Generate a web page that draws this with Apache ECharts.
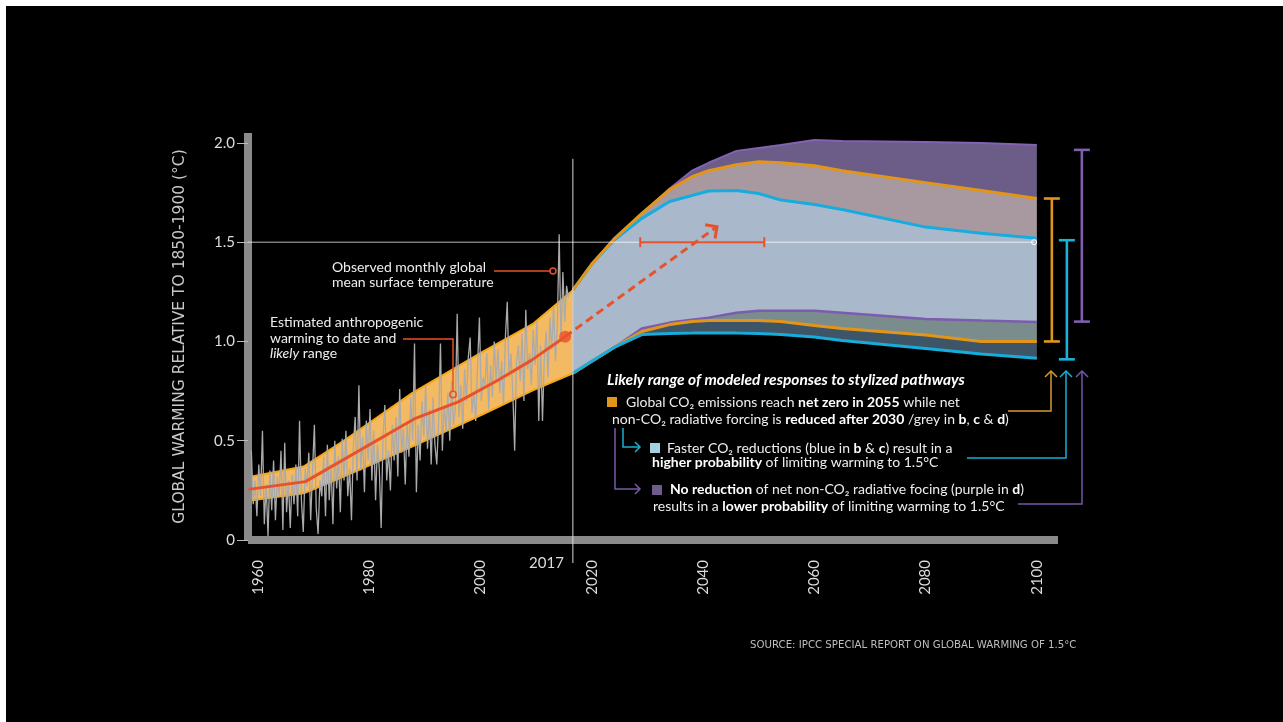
<!DOCTYPE html>
<html><head><meta charset="utf-8">
<script src="https://cdn.jsdelivr.net/npm/echarts@6/dist/echarts.min.js"></script>
<style>html,body{margin:0;padding:0;background:#000;}#c{width:1283px;height:722px;}</style>
</head><body><div id="c"></div>
<script>
// ---------- data ----------
const X_TICKS = [1960, 1980, 2000, 2020, 2040, 2060, 2080, 2100];
const Y_TICKS = [0, 0.5, 1.0, 1.5, 2.0];

const OBS_START = 1958.8;
const OBS_STEP = 1 / 3;
const OBS = [
  0.45, 0.18, 0.30, 0.12, 0.38, 0.22, 0.55, 0.08, 0.28, 0.02, 0.35, 0.15,
  0.40, 0.10, 0.32, 0.22, 0.45, 0.05, 0.49, 0.14, 0.30, 0.06, 0.33, 0.18,
  0.38, 0.12, 0.60, 0.20, 0.04, 0.36, 0.27, 0.44, 0.10, 0.35, 0.58, 0.16,
  0.03, 0.30, 0.22, 0.42, 0.12, 0.48, 0.20, 0.38, 0.08, 0.50, 0.26, 0.42,
  0.14, 0.51, 0.30, 0.55, 0.22, 0.36, 0.10, 0.47, 0.62, 0.30, 0.78, 0.35,
  0.52, 0.24, 0.60, 0.40, 0.66, 0.30, 0.55, 0.20, 0.48, 0.36, 0.06, 0.52,
  0.68, 0.30, 0.45, 0.25, 0.58, 0.40, 0.62, 0.32, 0.76, 0.44, 0.56, 0.28,
  0.60, 0.42, 0.72, 0.50, 0.99, 0.24, 0.58, 0.40, 0.70, 0.52, 0.78, 0.46,
  0.66, 0.38, 0.72, 0.48, 0.38, 0.60, 0.99, 0.45, 0.68, 0.55, 0.74, 0.50,
  0.80, 0.58, 0.66, 1.14, 0.62, 0.78, 0.56, 0.86, 0.70, 0.92, 1.02, 0.64,
  0.74, 0.60, 0.88, 1.12, 0.70, 0.82, 0.78, 0.94, 0.66, 0.88, 0.72, 1.00,
  0.80, 0.96, 0.74, 0.90, 0.68, 1.02, 1.20, 0.82, 0.94, 0.74, 0.45, 0.90,
  0.98, 0.80, 1.04, 0.70, 1.16, 0.86, 0.94, 0.78, 1.06, 0.88, 1.10, 0.60,
  0.98, 0.60, 0.92, 1.05, 0.82, 1.12, 0.96, 1.18, 0.90, 1.08, 1.54, 1.00,
  1.35, 1.10, 1.28, 1.22
];

// estimated anthropogenic warming and likely range
const ANTH_YEARS = [1958.3, 1968.5, 1988.3, 1996.0, 2003.2, 2009.2, 2015.2];
const ANTH = [0.255, 0.294, 0.613, 0.696, 0.806, 0.906, 1.024];
const HIST_YEARS = [1958.9, 1968.2, 1975.4, 1987.7, 2000.2, 2009.5, 2016.6];
const HIST_UPPER = [0.32, 0.37, 0.50, 0.74, 0.945, 1.09, 1.258];
const HIST_LOWER = [0.20, 0.235, 0.32, 0.47, 0.63, 0.755, 0.84];

// modeled pathways
const FUT_YEARS = [2016.6, 2020, 2024, 2029, 2034, 2038, 2041, 2046, 2050, 2054, 2060, 2065, 2080, 2090, 2100];
const PURPLE_UP = [1.258, 1.39, 1.52, 1.645, 1.77, 1.86, 1.90, 1.96, 1.975, 1.99, 2.015, 2.01, 2.005, 2.0, 1.99];
const GREY_UP   = [1.258, 1.39, 1.515, 1.645, 1.765, 1.83, 1.86, 1.89, 1.905, 1.90, 1.885, 1.86, 1.80, 1.76, 1.72];
const BLUE_UP   = [1.258, 1.39, 1.51, 1.62, 1.705, 1.735, 1.758, 1.76, 1.745, 1.712, 1.69, 1.665, 1.576, 1.545, 1.52];
const PURPLE_LO = [0.84, 0.90, 0.97, 1.065, 1.095, 1.11, 1.12, 1.145, 1.155, 1.155, 1.155, 1.145, 1.113, 1.105, 1.098];
const GREY_LO   = [0.84, 0.90, 0.97, 1.05, 1.085, 1.10, 1.105, 1.105, 1.105, 1.10, 1.08, 1.065, 1.032, 1.0, 1.0];
const BLUE_LO   = [0.84, 0.90, 0.97, 1.035, 1.04, 1.042, 1.042, 1.042, 1.04, 1.035, 1.022, 1.005, 0.965, 0.937, 0.915];

// 2100 ranges (brackets)
const BRACKET_GREY = [1.0, 1.72];
const BRACKET_BLUE = [0.91, 1.51];
const BRACKET_PURPLE = [1.10, 1.965];

const LEVEL_15 = 1.5;
const LEVEL_15_END = 2099.5;
const REACH_15_RANGE = [2028.7, 2051.0];
const ARROW_FROM = [2015.2, 1.024];
const ARROW_TO = [2042.5, 1.578];
const NOW_YEAR = 2016.6;
const NOW_LABEL = '2017';
const NOW_TOP = 1.92;

// ---------- helpers ----------
const FONT = 'Lato, "Noto Sans", sans-serif';
const RED = '#e8522a';
const pairs = (xs, ys) => xs.map((x, i) => [x, ys[i]]);
const obsData = OBS.map((v, i) => [OBS_START + i * OBS_STEP, v]);

function band(xs, up, lo, color, z) {
  return {
    type: 'custom', coordinateSystem: 'cartesian2d', clip: false, z, silent: true,
    data: [[xs[0], up[0]]],
    renderItem: (params, api) => {
      const pts = xs.map((x, i) => api.coord([x, up[i]]));
      for (let i = xs.length - 1; i >= 0; i--) pts.push(api.coord([xs[i], lo[i]]));
      return { type: 'polygon', shape: { points: pts }, style: { fill: color } };
    }
  };
}
function line(xs, ys, color, width, z) {
  return { type: 'line', data: pairs(xs, ys), showSymbol: false, symbol: 'none',
    lineStyle: { color, width }, z, silent: true };
}

const brackets = [
  { r: BRACKET_GREY, off: 15, color: '#e0961a' },
  { r: BRACKET_BLUE, off: 30, color: '#19b0da' },
  { r: BRACKET_PURPLE, off: 45, color: '#7f5fae' }
];

const TXT = { fontSize: 14, fontFamily: 'Lato', fill: '#eee' };
const RICH_B = { b: { fontWeight: 'bold', fontSize: 14, fontFamily: 'Lato', fill: '#fff' } };
function legendText(x, y, text) {
  return { type: 'text', x, y, z: 50, style: Object.assign({ text, rich: RICH_B }, TXT) };
}

const option = {
  backgroundColor: '#000',
  animation: false,
  grid: { left: 248, right: 225, top: 133, bottom: 182 },
  xAxis: {
    type: 'value', min: 1958.2, max: 2103.8, offset: 2,
    axisLine: { lineStyle: { color: '#8a8a8a', width: 8, cap: 'butt' } },
    axisTick: { show: false },
    splitLine: { show: false },
    axisLabel: { customValues: X_TICKS, rotate: 90, margin: 18, color: '#dcdcdc',
      fontSize: 15, fontFamily: FONT, formatter: v => String(v) }
  },
  yAxis: {
    type: 'value', min: 0, max: 2.05,
    name: 'GLOBAL WARMING RELATIVE TO 1850-1900 (°C)',
    nameLocation: 'middle', nameRotate: 90, nameGap: 60,
    nameTextStyle: { color: '#c8c8c8', fontSize: 15.5, fontFamily: 'DejaVu Sans' },
    axisLine: { show: true, lineStyle: { color: '#8a8a8a', width: 8, cap: 'butt' } },
    axisTick: { show: true, customValues: Y_TICKS, length: 11, lineStyle: { color: '#bbb', width: 1 } },
    splitLine: { show: false },
    axisLabel: { customValues: Y_TICKS, margin: 13, color: '#dcdcdc', fontSize: 15, fontFamily: FONT,
      formatter: v => (v === 0 ? '0' : v.toFixed(1)) }
  },
  series: [
    // future ranges (layered regions)
    band(FUT_YEARS, PURPLE_UP, GREY_UP, '#6c5c88', 1),
    band(FUT_YEARS, GREY_UP, BLUE_UP, '#a7999f', 1),
    band(FUT_YEARS, BLUE_UP, PURPLE_LO, '#a9b9cb', 1),
    band(FUT_YEARS, PURPLE_LO, GREY_LO, '#7b8c8c', 1),
    band(FUT_YEARS, GREY_LO, BLUE_LO, '#3e5567', 1),
    // historical likely range
    band(HIST_YEARS, HIST_UPPER, HIST_LOWER, '#f3b963', 2),
    line(HIST_YEARS, HIST_UPPER, '#f5a814', 2, 3),
    line(HIST_YEARS, HIST_LOWER, '#f5a814', 2, 3),
    // future boundary lines
    line(FUT_YEARS, PURPLE_UP, '#8262b2', 2, 3),
    line(FUT_YEARS, PURPLE_LO, '#7c5cae', 2.5, 3),
    line(FUT_YEARS, GREY_LO, '#e3951a', 3, 3),
    line(FUT_YEARS, BLUE_LO, '#17acd9', 3, 3),
    line(FUT_YEARS, BLUE_UP, '#17acdf', 3, 3),
    line(FUT_YEARS, GREY_UP, '#e3951a', 3, 3),
    // observed
    { type: 'line', data: obsData, showSymbol: false, symbol: 'none',
      lineStyle: { color: '#ababab', width: 1.3 }, z: 4, silent: true },
    // 1.5 level line
    { type: 'line', silent: true, z: 5,
      data: [{ value: [1958.2, LEVEL_15], symbol: 'none' },
             { value: [LEVEL_15_END, LEVEL_15], symbol: 'circle', symbolSize: 5 }],
      showSymbol: true, showAllSymbol: true,
      itemStyle: { color: 'rgba(0,0,0,0)', borderColor: '#fff', borderWidth: 1 },
      lineStyle: { color: 'rgba(255,255,255,0.72)', width: 1 } },
    // "now" vertical line + label
    { type: 'custom', coordinateSystem: 'cartesian2d', clip: false, z: 5, silent: true,
      data: [[NOW_YEAR, NOW_TOP]],
      renderItem: (params, api) => {
        const top = api.coord([NOW_YEAR, NOW_TOP]);
        const bot = api.coord([NOW_YEAR, 0]);
        return { type: 'group', children: [
          { type: 'line', shape: { x1: top[0], y1: top[1], x2: bot[0], y2: bot[1] + 23 },
            style: { stroke: '#d8d8d8', lineWidth: 1 } },
          { type: 'text', x: top[0] - 9, y: bot[1] + 23,
            style: { text: NOW_LABEL, fill: '#dcdcdc', font: '15px ' + FONT, align: 'right', verticalAlign: 'middle' } }
        ] };
      } },
    // anthropogenic warming
    line(ANTH_YEARS, ANTH, RED, 3, 6),
    { type: 'scatter', data: [[ANTH_YEARS[ANTH_YEARS.length - 1], ANTH[ANTH.length - 1]]],
      symbolSize: 12, itemStyle: { color: RED }, z: 7, silent: true },
    // dashed arrow + 1.5 crossing range
    { type: 'custom', coordinateSystem: 'cartesian2d', clip: false, z: 6, silent: true,
      data: [[ARROW_FROM[0], ARROW_FROM[1]]],
      renderItem: (params, api) => {
        const a = api.coord(ARROW_FROM), b = api.coord(ARROW_TO);
        const ang = Math.atan2(a[1] - b[1], a[0] - b[0]);
        const L = 12, s = Math.PI / 4;
        const p1 = [b[0] + L * Math.cos(ang + s), b[1] + L * Math.sin(ang + s)];
        const p2 = [b[0] + L * Math.cos(ang - s), b[1] + L * Math.sin(ang - s)];
        const r1 = api.coord([REACH_15_RANGE[0], LEVEL_15]);
        const r2 = api.coord([REACH_15_RANGE[1], LEVEL_15]);
        return { type: 'group', children: [
          { type: 'line', shape: { x1: a[0], y1: a[1], x2: b[0], y2: b[1] },
            style: { stroke: RED, lineWidth: 3, lineDash: [8, 5] } },
          { type: 'polyline', shape: { points: [p1, b, p2] },
            style: { stroke: RED, lineWidth: 3, fill: null } },
          { type: 'line', shape: { x1: r1[0], y1: r1[1], x2: r2[0], y2: r2[1] },
            style: { stroke: RED, lineWidth: 2 } },
          { type: 'line', shape: { x1: r1[0], y1: r1[1] - 5, x2: r1[0], y2: r1[1] + 5 },
            style: { stroke: RED, lineWidth: 2 } },
          { type: 'line', shape: { x1: r2[0], y1: r2[1] - 5, x2: r2[0], y2: r2[1] + 5 },
            style: { stroke: RED, lineWidth: 2 } }
        ] };
      } },
    // 2100 range brackets
    { type: 'custom', coordinateSystem: 'cartesian2d', clip: false, z: 6, silent: true,
      data: brackets.map((b, i) => [2100, b.r[0], b.r[1], i]),
      renderItem: (params, api) => {
        const b = brackets[api.value(3)];
        const lo = api.coord([2100, b.r[0]]), hi = api.coord([2100, b.r[1]]);
        const x = lo[0] + b.off, w = 8;
        const st = { stroke: b.color, lineWidth: 2.6 };
        return { type: 'group', children: [
          { type: 'line', shape: { x1: x, y1: hi[1], x2: x, y2: lo[1] }, style: st },
          { type: 'line', shape: { x1: x - w, y1: hi[1], x2: x + w, y2: hi[1] }, style: st },
          { type: 'line', shape: { x1: x - w, y1: lo[1], x2: x + w, y2: lo[1] }, style: st }
        ] };
      } }
  ],
  graphic: [
    { type: 'rect', shape: { x: 0, y: 0, width: 1283, height: 6 }, style: { fill: '#fff' }, z: 100 },
    { type: 'rect', shape: { x: 0, y: 0, width: 6, height: 722 }, style: { fill: '#fff' }, z: 100 },
    // annotations
    { type: 'text', x: 332, y: 260, z: 50,
      style: { text: 'Observed monthly global\nmean surface temperature', fill: '#eee',
        fontSize: 14, fontFamily: 'Lato', lineHeight: 15 } },
    { type: 'polyline', z: 50, shape: { points: [[494, 271], [550, 271]] }, style: { stroke: RED, lineWidth: 1.5 } },
    { type: 'circle', z: 50, shape: { cx: 553, cy: 271, r: 3 }, style: { stroke: RED, lineWidth: 1.5, fill: 'rgba(0,0,0,0)' } },
    { type: 'text', x: 270, y: 315, z: 50,
      style: { text: 'Estimated anthropogenic\nwarming to date and\n{i|likely} range', fill: '#eee',
        fontSize: 14, fontFamily: 'Lato', lineHeight: 15.5,
        rich: { i: { fontStyle: 'italic', fontSize: 14, fontFamily: 'Lato', fill: '#eee', lineHeight: 15.5 } } } },
    { type: 'polyline', z: 50, shape: { points: [[403, 339], [453, 339], [453, 391]] }, style: { stroke: RED, lineWidth: 1.5, fill: null } },
    { type: 'circle', z: 50, shape: { cx: 453, cy: 394.5, r: 3.2 }, style: { stroke: RED, lineWidth: 1.5, fill: 'rgba(0,0,0,0)' } },
    // legend block
    { type: 'text', x: 607, y: 372, z: 50,
      style: { text: 'Likely range of modeled responses to stylized pathways', fill: '#fff',
        fontStyle: 'italic', fontWeight: 'bold', fontSize: 15.5, fontFamily: 'Lato' } },
    { type: 'rect', z: 50, shape: { x: 607, y: 397, width: 10, height: 10 }, style: { fill: '#e09618' } },
    legendText(626, 395, 'Global CO₂ emissions reach {b|net zero in 2055} while net'),
    legendText(612, 412, 'non-CO₂ radiative forcing is {b|reduced after 2030} /grey in {b|b}, {b|c} & {b|d})'),
    { type: 'polyline', z: 50, shape: { points: [[623, 428], [623, 447], [640, 447]] }, style: { stroke: '#1ab0d0', lineWidth: 1.5, fill: null } },
    { type: 'polyline', z: 50, shape: { points: [[635, 442], [640, 447], [635, 452]] }, style: { stroke: '#1ab0d0', lineWidth: 1.5, fill: null } },
    { type: 'rect', z: 50, shape: { x: 650, y: 443, width: 10, height: 10 }, style: { fill: '#a3d0e2' } },
    legendText(667, 441, 'Faster CO₂ reductions (blue in {b|b} & {b|c}) result in a'),
    legendText(652, 455, '{b|higher probability} of limiting warming to 1.5°C'),
    { type: 'polyline', z: 50, shape: { points: [[615, 428], [615, 489], [640, 489]] }, style: { stroke: '#7a5aa8', lineWidth: 1.5, fill: null } },
    { type: 'polyline', z: 50, shape: { points: [[635, 484], [640, 489], [635, 494]] }, style: { stroke: '#7a5aa8', lineWidth: 1.5, fill: null } },
    { type: 'rect', z: 50, shape: { x: 652, y: 485, width: 10, height: 10 }, style: { fill: '#6e5c8c' } },
    legendText(670, 482, '{b|No reduction} of net non-CO₂ radiative focing (purple in {b|d})'),
    legendText(653, 499, 'results in a {b|lower probability} of limiting warming to 1.5°C'),
    // leaders to the brackets
    { type: 'polyline', z: 50, shape: { points: [[1008, 411], [1051, 411], [1051, 371]] }, style: { stroke: '#d69a2c', lineWidth: 1.5, fill: null } },
    { type: 'polyline', z: 50, shape: { points: [[1045, 377], [1051, 371], [1057, 377]] }, style: { stroke: '#d69a2c', lineWidth: 1.5, fill: null } },
    { type: 'polyline', z: 50, shape: { points: [[967, 458], [1066, 458], [1066, 371]] }, style: { stroke: '#19aed2', lineWidth: 1.5, fill: null } },
    { type: 'polyline', z: 50, shape: { points: [[1060, 377], [1066, 371], [1072, 377]] }, style: { stroke: '#19aed2', lineWidth: 1.5, fill: null } },
    { type: 'polyline', z: 50, shape: { points: [[1018, 504], [1082, 504], [1082, 371]] }, style: { stroke: '#7556a3', lineWidth: 1.5, fill: null } },
    { type: 'polyline', z: 50, shape: { points: [[1076, 377], [1082, 371], [1088, 377]] }, style: { stroke: '#7556a3', lineWidth: 1.5, fill: null } },
    // source
    { type: 'text', x: 750, y: 640, z: 50,
      style: { text: 'SOURCE: IPCC SPECIAL REPORT ON GLOBAL WARMING OF 1.5°C', fill: '#bdbdbd',
        fontSize: 10.2, fontFamily: 'DejaVu Sans' } }
  ]
};

const chart = echarts.init(document.getElementById('c'));
chart.setOption(option);
</script>
</body></html>
